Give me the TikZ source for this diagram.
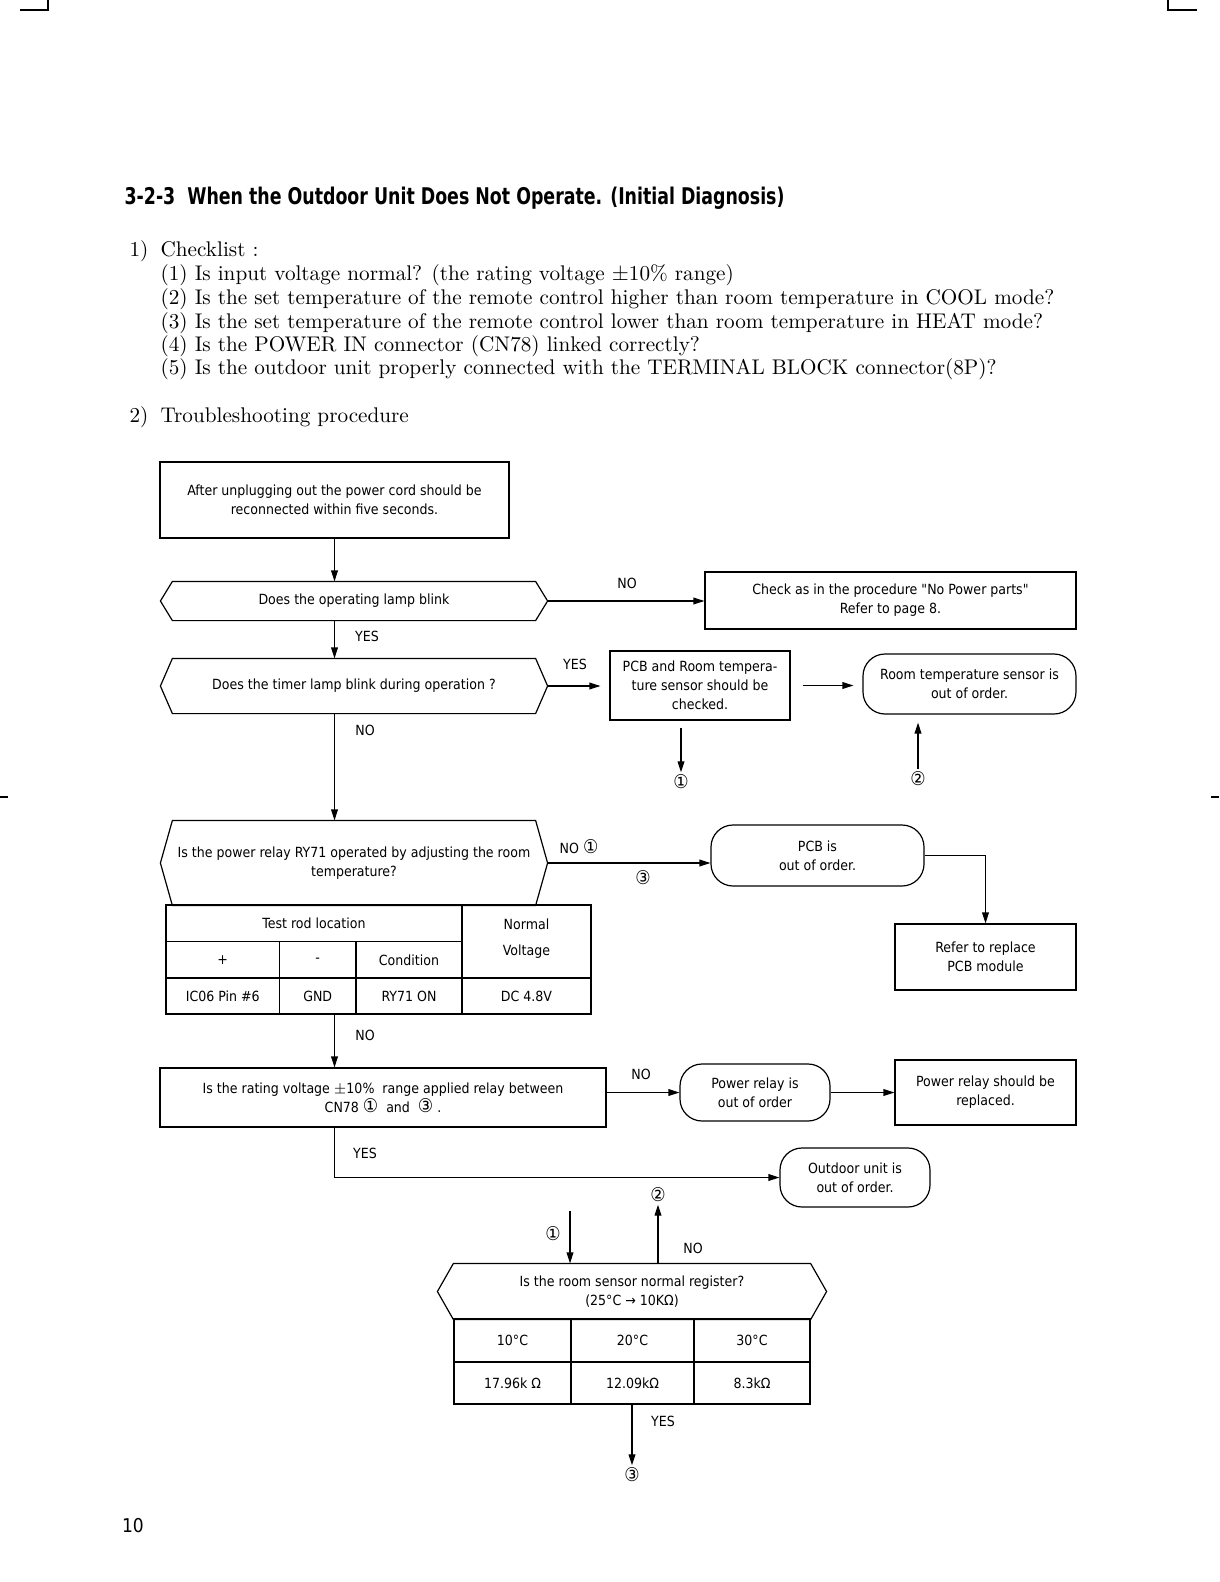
\documentclass[tikz,border=0pt]{standalone}
\usepackage{fontspec}
\newfontfamily\condfont[BoldFont={DejaVu Sans Condensed Bold}]{DejaVu Sans Condensed}
\newfontfamily\headfont[FakeStretch=0.84]{DejaVu Sans Condensed Bold}
\newcommand{\ringnum}[1]{{\fontsize{9.5}{9.5}\selectfont #1}}
\usetikzlibrary{arrows.meta}
\tikzset{
  box/.style={draw, line width=0.6pt, inner sep=0pt, align=center, font=\condfont\fontsize{7}{9.5}\selectfont},
  term/.style={box, rounded corners=11pt},
  ask/.style={inner sep=0pt, align=center, font=\condfont\fontsize{7}{9.5}\selectfont},
  cell/.style={inner sep=0pt, align=center, font=\condfont\fontsize{7}{13}\selectfont},
  lbl/.style={inner sep=1pt, font=\condfont\fontsize{7}{9}\selectfont},
  num/.style={inner sep=1pt, font=\condfont\fontsize{9.5}{9.5}\selectfont},
  body/.style={inner sep=0pt, anchor=west, text height=8pt, text depth=2.5pt, font=\fontsize{10.6}{13}\selectfont},
  arr/.style={-{Triangle[length=5.5pt,width=3.4pt]}}
}
\begin{document}
\begin{tikzpicture}[x=0.5pt, y=-0.5pt, line width=0.6pt]
  \useasboundingbox (0,0) rectangle (1219,1582);
  \draw (48,0) -- (48,10) -- (20,10);
  \draw (1168,0) -- (1168,10) -- (1197,10);
  \draw (0,797) -- (8,797);
  \draw (1211,797) -- (1219,797);

  \node[anchor=west, inner sep=0pt, font=\headfont\fontsize{11.5}{13}\selectfont] (title) at (124,198)
    {3-2-3\hspace{6pt}When the Outdoor Unit Does Not Operate. (Initial Diagnosis)};
  \node[body] (n1) at (129,251) {1)};
  \node[body] (c0) at (160,251) {Checklist :};
  \node[body] (c1) at (160,275) {(1) Is input voltage normal? (the rating voltage $\pm$10\% range)};
  \node[body] (c2) at (160,299) {(2) Is the set temperature of the remote control higher than room temperature in COOL mode?};
  \node[body] (c3) at (160,323) {(3) Is the set temperature of the remote control lower than room temperature in HEAT mode?};
  \node[body] (c4) at (160,346) {(4) Is the POWER IN connector (CN78) linked correctly?};
  \node[body] (c5) at (160,369) {(5) Is the outdoor unit properly connected with the TERMINAL BLOCK connector(8P)?};
  \node[body] (n2) at (129,417) {2)};
  \node[body] (proc) at (160,417) {Troubleshooting procedure};

  \node[box, minimum width=174.5pt, minimum height=38pt] (start) at (334.5,500)
    {After unplugging out the power cord should be\\reconnected within five seconds.};
  \node[ask, minimum width=181pt, minimum height=19pt] (q1) at (354,601) {Does the operating lamp blink};
  \node[box, minimum width=185.5pt, minimum height=28.5pt] (nopower) at (890.5,600.5)
    {Check as in the procedure "No Power parts"\\Refer to page 8.};
  \node[ask, minimum width=181pt, minimum height=27pt] (q2) at (354,686) {Does the timer lamp blink during operation ?};
  \node[box, minimum width=90pt, minimum height=34.5pt] (pcbchk) at (700,685.5)
    {PCB and Room tempera-\\ture sensor should be\\checked.};
  \node[term, minimum width=106.5pt, minimum height=30pt] (sensorbad) at (969.5,684)
    {Room temperature sensor is\\out of order.};
  \node[num] (c1a) at (681,782) {①};
  \node[num] (c2a) at (918,779) {②};

  \node[ask, minimum width=181pt, minimum height=42pt] (q3) at (354,863)
    {Is the power relay RY71 operated by adjusting the room\\temperature?};
  \node[draw, inner sep=0pt, minimum width=212.5pt, minimum height=54.5pt] (tab1) at (378.5,959.5) {};
  \draw (166,941.5) -- (462,941.5);
  \draw (166,978) -- (591,978);
  \draw (279.5,941.5) -- (279.5,1014);
  \draw (356,941.5) -- (356,1014);
  \draw (462,905) -- (462,1014);
  \node[cell] (t1rod) at (314,923) {Test rod location};
  \node[cell] (t1volt) at (526.5,939) {Normal\\Voltage};
  \node[cell] (t1plus) at (222.75,960) {+};
  \node[cell] (t1minus) at (317.75,960) {-};
  \node[cell] (t1cond) at (409,960) {Condition};
  \node[cell] (t1pin) at (222.75,996) {IC06 Pin \#6};
  \node[cell] (t1gnd) at (317.75,996) {GND};
  \node[cell] (t1on) at (409,996) {RY71 ON};
  \node[cell] (t1dc) at (526.5,996) {DC 4.8V};

  \node[term, minimum width=106.5pt, minimum height=30.5pt] (pcbbad) at (817.5,855.5) {PCB is\\out of order.};
  \node[box, minimum width=90.5pt, minimum height=33pt] (refpcb) at (985.5,957) {Refer to replace\\PCB module};

  \node[box, minimum width=223pt, minimum height=29.5pt] (rate) at (383,1097.5)
    {Is the rating voltage $\pm$10\%\ \ range applied relay between\\CN78 \ringnum{①}\ \ and\ \ \ringnum{③} .};
  \node[term, minimum width=75pt, minimum height=28.5pt] (relaybad) at (755,1092.5) {Power relay is\\out of order};
  \node[box, minimum width=90.5pt, minimum height=32.5pt] (replace) at (985.5,1092.5) {Power relay should be\\replaced.};
  \node[term, minimum width=75pt, minimum height=29.5pt] (outbad) at (855,1177.5) {Outdoor unit is\\out of order.};

  \node[num] (c2b) at (658,1195) {②};
  \node[num] (c1b) at (553,1234) {①};
  \coordinate (in1) at (570,1211);
  \node[ask, minimum width=178pt, minimum height=27.5pt] (q4) at (632,1291.5)
    {Is the room sensor normal register?\\(25°C → 10KΩ)};
  \node[draw, inner sep=0pt, minimum width=178pt, minimum height=42.5pt] (tab2) at (632,1361.5) {};
  \draw (454,1362) -- (810,1362);
  \draw (571,1319) -- (571,1404);
  \draw (694,1319) -- (694,1404);
  \node[cell] (t2a) at (512.5,1340.5) {10°C};
  \node[cell] (t2b) at (632.5,1340.5) {20°C};
  \node[cell] (t2c) at (752,1340.5) {30°C};
  \node[cell] (t2d) at (512.5,1383) {17.96k Ω};
  \node[cell] (t2e) at (632.5,1383) {12.09kΩ};
  \node[cell] (t2f) at (752,1383) {8.3kΩ};
  \node[num] (c3b) at (632,1475) {③};

  \foreach \q/\d in {q1/6pt, q2/6pt, q3/6pt, q4/8pt}
    \draw (\q.north west) -- (\q.north east) -- ([xshift=\d]\q.east) -- (\q.south east)
      -- (\q.south west) -- ([xshift=-\d]\q.west) -- cycle;

  \draw[arr] (start.south) -- (start.south |- q1.north);
  \draw[arr] ([xshift=6pt]q1.east) -- (q1.east -| nopower.west);
  \node[lbl] at (627,583) {NO};
  \draw[arr] (start.south |- q1.south) -- (start.south |- q2.north);
  \node[lbl] at (367,636) {YES};
  \draw[arr, shorten >=4.5pt] ([xshift=6pt]q2.east) -- (q2.east -| pcbchk.west);
  \node[lbl] at (575,664) {YES};
  \draw[arr, shorten <=6pt, shorten >=4.5pt] (pcbchk.east) -- (pcbchk.east -| sensorbad.west);
  \draw[arr, shorten <=3.5pt] (c1a |- pcbchk.south) -- (c1a.north);
  \draw[arr, shorten >=4pt] (c2a.north) -- (c2a |- sensorbad.south);
  \draw[arr] (start.south |- q2.south) -- (start.south |- q3.north);
  \node[lbl] at (365,730) {NO};

  \draw[arr] ([xshift=6pt]q3.east) -- (q3.east -| pcbbad.west);
  \node[lbl] at (579,847) {NO \ringnum{①}};
  \node[num] at (643,878) {③};
  \draw[arr] (pcbbad.east) -| (refpcb.north);
  \draw[arr] (start.south |- tab1.south) -- (start.south |- rate.north);
  \node[lbl] at (365,1035) {NO};

  \draw[arr] (rate.east |- relaybad.west) -- (relaybad.west);
  \node[lbl] at (641,1074) {NO};
  \draw[arr] (relaybad.east) -- (relaybad.east -| replace.west);
  \draw[arr] (start.south |- rate.south) |- (outbad.west);
  \node[lbl] at (365,1153) {YES};

  \draw[arr] (c2b |- q4.north) -- (c2b.south);
  \node[lbl] at (693,1248) {NO};
  \draw[arr] (in1) -- (in1 |- q4.north);
  \draw[arr] (tab2.south) -- (c3b.north);
  \node[lbl] at (663,1421) {YES};

  \node[inner sep=0pt, font=\condfont\fontsize{9.5}{11}\selectfont] (page) at (133,1526) {10};
\end{tikzpicture}
\end{document}
